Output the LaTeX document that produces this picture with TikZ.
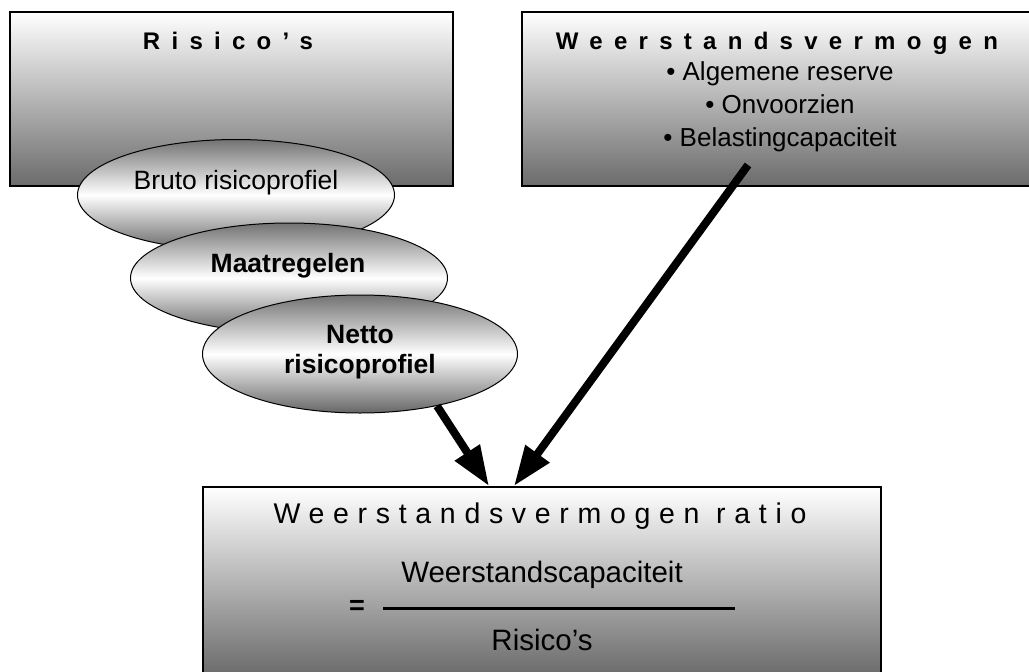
\documentclass[tikz,border=0pt]{standalone}
\usepackage{fontspec}
\setmainfont{Liberation Sans}
\usetikzlibrary{shapes.geometric,arrows.meta}
\tikzset{
  panel/.style={draw=black, line width=2pt, rectangle, inner sep=0pt,
    top color=white, bottom color=black!58},
  blob/.style={draw=black, line width=1pt, ellipse, inner sep=0pt,
    top color=black!55, bottom color=black!60, middle color=white},
  paneltitle/.style={anchor=base, font=\fontsize{24}{28}\selectfont\bfseries\addfontfeature{LetterSpace=47}},
  blobtext/.style={anchor=base, align=center, font=\fontsize{26.5}{30}\selectfont},
  fatarrow/.style={line width=8pt, -{Triangle[length=40pt,width=28pt]}},
}
\begin{document}
\begin{tikzpicture}[x=1pt, y=-1pt]
    \useasboundingbox (0,0) rectangle (1029,672);

    % Panels
    \node[panel, minimum width=443pt, minimum height=174pt] (risico) at (231.5,99) {};
    \node[panel, minimum width=512pt, minimum height=174pt] (weerstand) at (778,99) {};
    \node[panel, minimum width=678pt, minimum height=188pt] (ratio) at (542,581) {};

    \node[paneltitle] (risicotitle) at (228,49) {Risico's};
    \node[paneltitle] (weertitle) at (777,49) {Weerstandsvermogen};
    \node[anchor=base, align=center, font=\fontsize{26}{33}\selectfont] (items) at (780,146) {
        \textbullet\ Algemene reserve \\
        \textbullet\ Onvoorzien \\
        \textbullet\ Belastingcapaciteit
    };

    % Risk profile ellipses
    \node[blob, minimum width=317pt, minimum height=111pt] (bruto) at (236,195) {};
    \node[blobtext] (brutotext) at (236,189) {Bruto risicoprofiel};
    \node[blob, minimum width=317pt, minimum height=110pt] (maat) at (289,278) {};
    \node[blobtext, font=\fontsize{26.5}{30}\selectfont\bfseries] (maattext) at (288,272) {Maatregelen};
    \node[blob, minimum width=315pt, minimum height=118pt] (netto) at (360,354) {};
    \node[blobtext, font=\fontsize{26.5}{30}\selectfont\bfseries] (nettotext) at (360,373) {Netto\\ risicoprofiel};

    % Ratio
    \node[anchor=base, font=\fontsize{28.5}{30}\selectfont\addfontfeature{LetterSpace=30.5}] (ratiotitle) at (540,523) {Weerstandsvermogen ratio};
    \node[anchor=base, font=\fontsize{29.5}{30}\selectfont] (numer) at (542,582) {Weerstandscapaciteit};
    \node[font=\fontsize{27}{30}\selectfont\bfseries] (eq) at (357,607) {=};
    \coordinate (barleft) at (383,608);
    \coordinate (barright) at (735,608);
    \draw[line width=3pt] (barleft) -- (barright);
    \node[anchor=base, font=\fontsize{29.5}{30}\selectfont] (denom) at (542,650) {Risico's};

    % Arrows
    \coordinate (tipleft) at (489,486);
    \coordinate (tipright) at (514,486);
    \coordinate (weerfoot) at (748,165);
    \draw[fatarrow] (netto.-34) -- (tipleft);
    \draw[fatarrow] (weerfoot) -- (tipright);
\end{tikzpicture}
\end{document}
